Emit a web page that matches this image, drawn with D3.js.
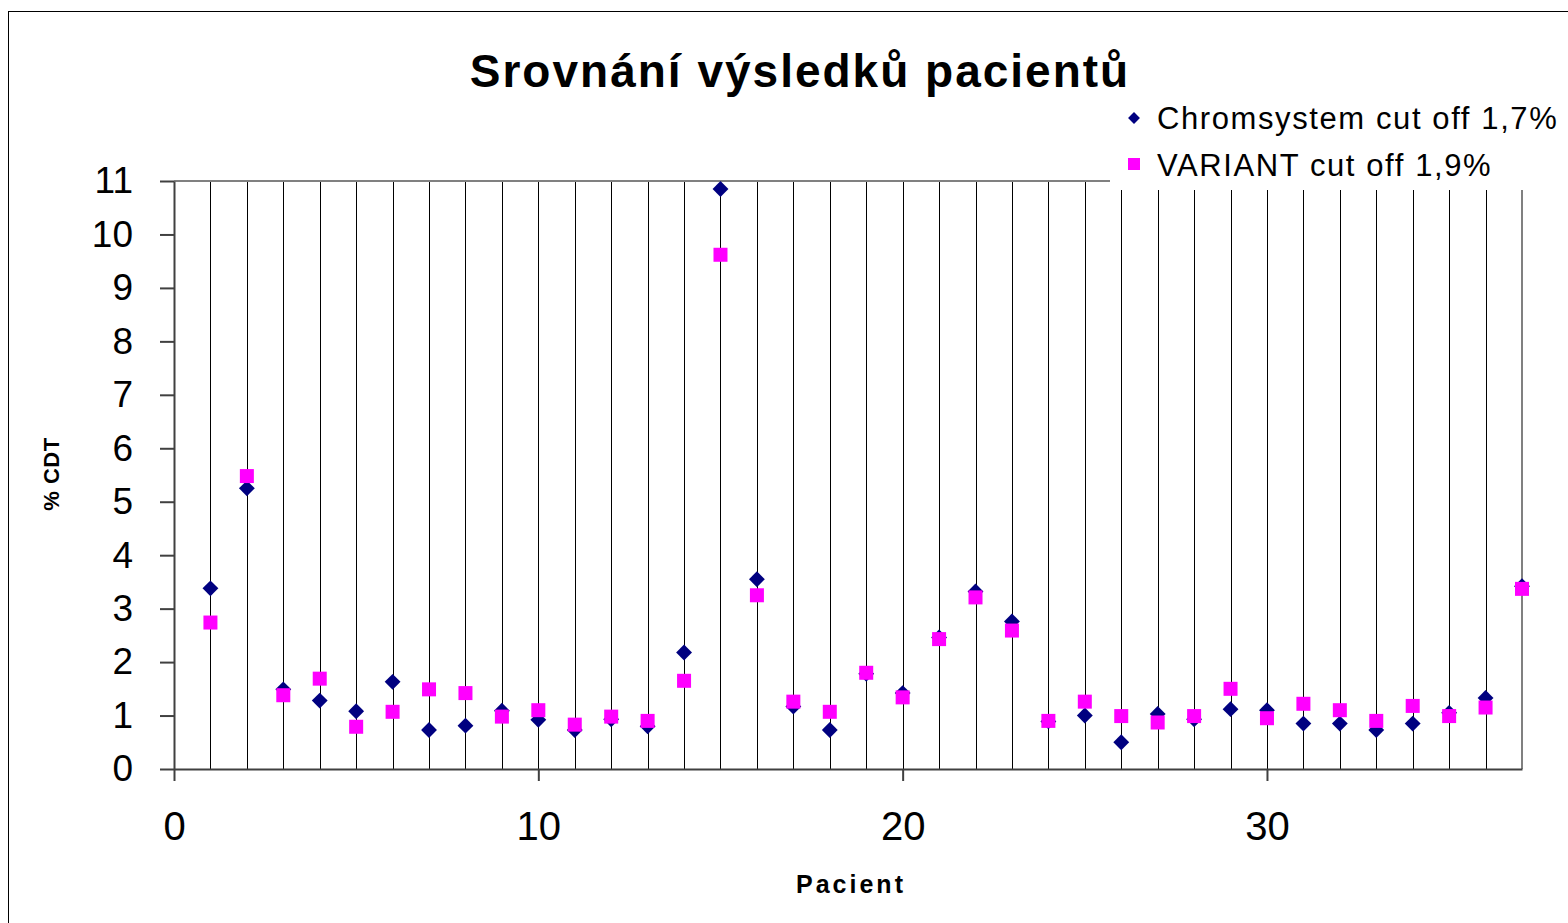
<!DOCTYPE html>
<html>
<head>
<meta charset="utf-8">
<script src="https://cdn.jsdelivr.net/npm/d3@7"></script>
<style>
  body { margin: 0; background: #fff; }
  svg { display: block; font-family: "Liberation Sans", Arial, sans-serif; }
</style>
</head>
<body>
<div id="chart"></div>
<script>
let width = 1568;
let height = 923;

// data
let patients = d3.range(1, 38);
let chromsystem = [3.38, 5.25, 1.49, 1.28, 1.08, 1.63, 0.73, 0.81, 1.09, 0.92,
  0.73, 0.93, 0.80, 2.18, 10.85, 3.55, 1.17, 0.73, 1.78, 1.42,
  2.46, 3.32, 2.76, 0.89, 1.00, 0.50, 1.03, 0.93, 1.12, 1.10,
  0.85, 0.85, 0.73, 0.85, 1.05, 1.33, 3.42];
let variant = [2.74, 5.48, 1.38, 1.69, 0.79, 1.07, 1.49, 1.42, 0.98, 1.10,
  0.83, 0.98, 0.90, 1.65, 9.62, 3.25, 1.26, 1.07, 1.80, 1.34,
  2.43, 3.21, 2.59, 0.90, 1.26, 0.99, 0.87, 0.99, 1.50, 0.95,
  1.22, 1.10, 0.90, 1.18, 0.99, 1.15, 3.37];
let xTicks = [0, 10, 20, 30];
let yTicks = d3.range(0, 12);
let seriesNames = ["Chromsystem cut off 1,7%", "VARIANT cut off 1,9%"];

let plotLeft = 174;
let plotRight = 1522;
let plotTop = 181;
let plotBottom = 769;

let x = d3.scaleLinear().domain([0, 37]).range([plotLeft, plotRight]);
let y = d3.scaleLinear().domain([0, 11]).range([plotBottom, plotTop]);

let svg = d3.select("#chart")
  .append("svg")
  .attr("width", width)
  .attr("height", height);

// outer frame
svg.append("rect")
  .attr("x", 8.5).attr("y", 11.5)
  .attr("width", 1600).attr("height", 1000)
  .attr("fill", "none").attr("stroke", "#000").attr("stroke-width", 1);

// vertical gridlines
svg.append("g")
  .selectAll("line")
  .data(patients.slice(0, 36))
  .join("line")
  .attr("x1", d => Math.round(x(d)) + 0.5)
  .attr("x2", d => Math.round(x(d)) + 0.5)
  .attr("y1", plotTop)
  .attr("y2", plotBottom)
  .attr("stroke", "#000")
  .attr("stroke-width", 1);

// top line and right border
svg.append("line")
  .attr("x1", plotLeft).attr("x2", plotRight)
  .attr("y1", y(11)).attr("y2", y(11))
  .attr("stroke", "#808080").attr("stroke-width", 2);
svg.append("line")
  .attr("x1", plotRight).attr("x2", plotRight)
  .attr("y1", plotTop).attr("y2", plotBottom)
  .attr("stroke", "#808080").attr("stroke-width", 2);

// y axis
let yAxis = svg.append("g")
  .attr("transform", "translate(" + plotLeft + ",0)")
  .call(d3.axisLeft(y).tickValues(yTicks).tickSize(14).tickSizeOuter(0).tickPadding(27));
yAxis.select(".domain").attr("stroke", "#404040").attr("stroke-width", 2);
yAxis.selectAll(".tick line").attr("stroke", "#404040").attr("stroke-width", 2);
yAxis.selectAll("text").attr("font-size", 37).attr("fill", "#000");

// x axis
let xAxis = svg.append("g")
  .attr("transform", "translate(0," + plotBottom + ")")
  .call(d3.axisBottom(x).tickValues(xTicks).tickSize(12).tickSizeOuter(0).tickPadding(31));
xAxis.select(".domain").attr("stroke", "#404040").attr("stroke-width", 2);
xAxis.selectAll(".tick line").attr("stroke", "#404040").attr("stroke-width", 2);
xAxis.selectAll("text").attr("font-size", 40).attr("fill", "#000");

// points
let diamond = d3.symbol().type(d3.symbolDiamond2).size(160);
svg.append("g")
  .selectAll("path")
  .data(chromsystem)
  .join("path")
  .attr("d", diamond)
  .attr("transform", (d, i) => "translate(" + x(patients[i]) + "," + y(d) + ")")
  .attr("fill", "#000080");

svg.append("g")
  .selectAll("rect")
  .data(variant)
  .join("rect")
  .attr("x", (d, i) => x(patients[i]) - 7)
  .attr("y", d => y(d) - 7)
  .attr("width", 14)
  .attr("height", 14)
  .attr("fill", "#ff00ff");

// legend
let legend = svg.append("g");
legend.append("rect")
  .attr("x", 1110).attr("y", 95)
  .attr("width", 470).attr("height", 95)
  .attr("fill", "#fff");
legend.append("path")
  .attr("d", d3.symbol().type(d3.symbolDiamond2).size(90))
  .attr("transform", "translate(1134,118)")
  .attr("fill", "#000080");
legend.append("rect")
  .attr("x", 1128).attr("y", 158)
  .attr("width", 12).attr("height", 12)
  .attr("fill", "#ff00ff");
legend.selectAll("text")
  .data(seriesNames)
  .join("text")
  .attr("x", 1157)
  .attr("y", (d, i) => 129 + i * 47)
  .attr("font-size", 31)
  .attr("letter-spacing", 1.6)
  .attr("fill", "#000")
  .text(d => d);

// title and axis titles
svg.append("text")
  .attr("x", 800).attr("y", 87)
  .attr("text-anchor", "middle")
  .attr("font-size", 46).attr("font-weight", "bold")
  .attr("letter-spacing", 2)
  .text("Srovnání výsledků pacientů");

svg.append("text")
  .attr("x", 851).attr("y", 893)
  .attr("text-anchor", "middle")
  .attr("font-size", 25).attr("font-weight", "bold")
  .attr("letter-spacing", 3)
  .text("Pacient");

svg.append("text")
  .attr("transform", "translate(59,474) rotate(-90)")
  .attr("text-anchor", "middle")
  .attr("font-size", 22).attr("font-weight", "bold")
  .attr("letter-spacing", 0.5)
  .text("% CDT");
</script>
</body>
</html>
